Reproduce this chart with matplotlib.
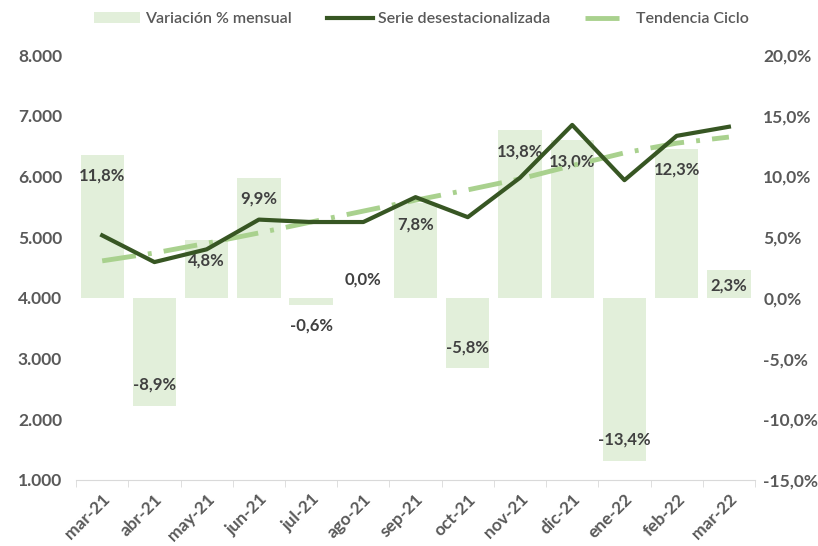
import matplotlib
matplotlib.use('Agg')
import matplotlib.pyplot as plt
import numpy as np
from matplotlib.lines import Line2D
from matplotlib.patches import Patch
from matplotlib.ticker import FuncFormatter, FixedLocator

plt.rcParams['font.family'] = ['Lato', 'DejaVu Sans']

# data
months = ['mar-21', 'abr-21', 'may-21', 'jun-21', 'jul-21', 'ago-21', 'sep-21',
          'oct-21', 'nov-21', 'dic-21', 'ene-22', 'feb-22', 'mar-22']
var_pct = [11.8, -8.9, 4.8, 9.9, -0.6, 0.0, 7.8, -5.8, 13.8, 13.0, -13.4, 12.3, 2.3]
serie = [5030, 4590, 4800, 5290, 5250, 5250, 5660, 5330, 5980, 6850, 5940, 6670, 6820]
tendencia = [4610, 4740, 4900, 5070, 5250, 5430, 5610, 5780, 5960, 6180, 6390, 6550, 6650]

bar_col = '#e2efda'
dark = '#375623'
light = '#a9d18e'
txt = '#595959'

fig = plt.figure(figsize=(8.18, 5.46), dpi=100)
ax2 = fig.add_axes([0.093, 0.121, 0.830, 0.778])  # bars, right axis
ax = ax2.twinx()  # lines, left axis
ax.yaxis.tick_left()
ax2.yaxis.tick_right()

x = np.arange(len(months))
ax2.bar(x, var_pct, width=0.83, color=bar_col, zorder=1)
ax2.set_ylim(-15, 20)
ax2.set_xlim(-0.5, len(months) - 0.5)

# data labels
for xi, v in zip(x, var_pct):
    s = f'{v:.1f}%'.replace('.', ',')
    if abs(v) >= 4:
        pos, off = v, (-21 if v > 0 else 21)
    elif abs(v) >= 2:
        pos, off = v / 2, -2
    else:
        pos, off = v, (18 if v >= 0 else -13 - abs(v) * 12)
    ax2.annotate(s, (xi, pos), xytext=(0, off), textcoords='offset pixels',
                 ha='center', va='center', fontsize=12, fontweight='bold', color='#404040')

ax.plot(x, tendencia, color=light, lw=3.5, dashes=(7, 2.5, 0.8, 2.5), zorder=3)
ax.plot(x, serie, color=dark, lw=3, zorder=4)
ax.set_ylim(1000, 8000)
ax.set_yticks(range(1000, 8001, 1000))
ax.yaxis.set_major_formatter(FuncFormatter(lambda v, p: f'{int(v):,}'.replace(',', '.')))
ax2.set_yticks(range(-15, 21, 5))
ax2.yaxis.set_major_formatter(FuncFormatter(lambda v, p: f'{v:.1f}%'.replace('.', ',')))

for a, pad in ((ax, 10), (ax2, 6)):
    for sp in a.spines.values():
        sp.set_visible(False)
    a.tick_params(axis='y', length=0, labelsize=12.5, labelcolor=txt, pad=pad)
    for lab in a.get_yticklabels():
        lab.set_fontweight('bold')

ax2.spines['bottom'].set_visible(True)
ax2.spines['bottom'].set_color('#d9d9d9')
ax2.set_xticks(x)
ax2.set_xticklabels(months, rotation=45, ha='right', rotation_mode='anchor',
                    fontsize=12.5, fontweight='bold', color=txt)
ax2.tick_params(axis='x', which='major', length=0, pad=8)
ax2.xaxis.set_minor_locator(FixedLocator(np.arange(-0.5, len(months), 1)))
ax2.tick_params(axis='x', which='minor', length=5, color='#d9d9d9')

handles = [Patch(facecolor=bar_col, edgecolor='none'),
           Line2D([], [], color=dark, lw=3),
           Line2D([], [], color=light, lw=3.5, dashes=(7, 2.5, 0.8, 2.5))]
labels = ['Variación % mensual', 'Serie desestacionalizada', 'Tendencia Ciclo']
leg = fig.legend(handles, labels, loc='center', bbox_to_anchor=(0.515, 0.965), ncol=3,
                 frameon=False, fontsize=11.5, labelcolor=txt, handlelength=2.9,
                 columnspacing=2.2, handletextpad=0.3)
for t in leg.get_texts():
    t.set_fontweight('semibold')

fig.savefig('out.png', dpi=100)
